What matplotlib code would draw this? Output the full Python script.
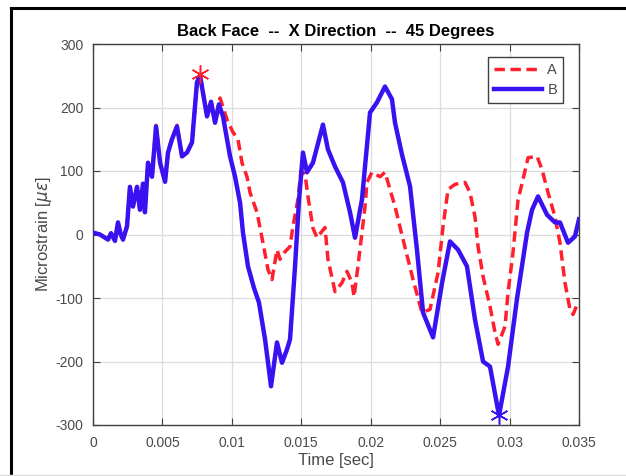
import matplotlib
matplotlib.use("Agg")
import matplotlib.pyplot as plt
from matplotlib.lines import Line2D

plt.rcParams['font.family'] = ['Liberation Sans', 'DejaVu Sans']
plt.rcParams['mathtext.fontset'] = 'dejavusans'
plt.rcParams['axes.unicode_minus'] = False

# Time [sec] and microstrain samples for gauge B
t_b = [0.0, 0.0005, 0.00108, 0.0013, 0.00158, 0.0018, 0.002, 0.00216, 0.00245,
       0.00266, 0.00288, 0.00317, 0.00338, 0.0036, 0.00374, 0.00396, 0.00425,
       0.00454, 0.00483, 0.00519, 0.0054, 0.00569, 0.00605, 0.00641, 0.00677,
       0.00713, 0.00749, 0.00771, 0.00821, 0.0085, 0.00879, 0.00907, 0.00936,
       0.00987, 0.01023, 0.01059, 0.0108, 0.01116, 0.01159, 0.01195, 0.01239,
       0.01282, 0.01325, 0.01361, 0.01397, 0.01419, 0.01455, 0.01484, 0.01512,
       0.01541, 0.01584, 0.01656, 0.01692, 0.01743, 0.018, 0.01851, 0.01887,
       0.01937, 0.01995, 0.02045, 0.02103, 0.02153, 0.02175, 0.02225, 0.02283,
       0.02333, 0.02377, 0.02449, 0.02514, 0.02571, 0.02629, 0.02693, 0.02751,
       0.02809, 0.02859, 0.02924, 0.02989, 0.03053, 0.03126, 0.03162, 0.03205,
       0.0327, 0.03327, 0.03363, 0.03421, 0.03471, 0.035]
v_b = [3, 0, -8, 2, -10, 19, 0, -8, 13,
       75, 44, 75, 39, 80, 35, 113, 91,
       170, 113, 83, 129, 150, 170, 123, 129,
       145, 240, 250, 186, 209, 176, 205, 186,
       123, 91, 50, 3, -50, -84, -107, -165,
       -239, -170, -202, -181, -165, -50, 55, 129,
       98, 113, 173, 134, 107, 82, 35, -5,
       55, 192, 208, 233, 213, 176, 126, 76,
       -24, -123, -162, -76, -11, -24, -50, -134,
       -200, -208, -285, -208, -102, 3, 39, 60,
       31, 19, 19, -13, -3, 24]

# Time [sec] and microstrain samples for gauge A
t_a = [0.0, 0.0005, 0.00108, 0.0013, 0.00158, 0.0018, 0.002, 0.00216, 0.00245,
       0.00266, 0.00288, 0.00317, 0.00338, 0.0036, 0.00374, 0.00396, 0.00425,
       0.00454, 0.00483, 0.00519, 0.0054, 0.00569, 0.00605, 0.00641, 0.00677,
       0.00713, 0.00749, 0.00771, 0.00821, 0.0085, 0.00879, 0.00915, 0.00965,
       0.01008, 0.01044, 0.01073, 0.01109, 0.01131, 0.01181, 0.01224, 0.0126,
       0.01289, 0.01325, 0.01347, 0.01383, 0.01419, 0.0144, 0.01476, 0.01498,
       0.01527, 0.01548, 0.01584, 0.01613, 0.01671, 0.01692, 0.01721, 0.01743,
       0.01793, 0.01829, 0.01865, 0.0188, 0.01908, 0.01937, 0.01959, 0.01973,
       0.02009, 0.02067, 0.02103, 0.02139, 0.02175, 0.02233, 0.02305, 0.02369,
       0.02427, 0.02485, 0.02521, 0.02557, 0.02607, 0.02679, 0.02715, 0.02751,
       0.02773, 0.02809, 0.02859, 0.02895, 0.02917, 0.02967, 0.02989, 0.03025,
       0.03061, 0.03097, 0.03133, 0.03198, 0.03234, 0.03277, 0.03327, 0.03363,
       0.03399, 0.03435, 0.03457, 0.03493]
v_a = [3, 0, -8, 2, -10, 19, 0, -8, 13,
       75, 44, 75, 39, 80, 35, 113, 91,
       172, 113, 83, 129, 152, 172, 123, 129,
       145, 240, 252, 188, 209, 178, 215, 181,
       161, 150, 113, 91, 66, 35, -13, -55,
       -71, -24, -39, -27, -19, 13, 55, 100,
       95, 60, 10, -5, 11, -39, -68, -90,
       -76, -58, -76, -98, -50, 3, 44, 82,
       98, 91, 98, 71, 44, -8, -71, -123,
       -118, -60, 13, 71, 79, 82, 66, 28,
       -19, -66, -113, -154, -173, -145, -91, -28,
       55, 87, 121, 123, 102, 66, 28, -13,
       -76, -118, -126, -107]

# Marked extrema
peak_a = (0.00771, 252)
min_b = (0.02924, -285)

x_ticks = [0, 0.005, 0.01, 0.015, 0.02, 0.025, 0.03, 0.035]
x_tick_labels = ['0', '0.005', '0.01', '0.015', '0.02', '0.025', '0.03', '0.035']
y_ticks = [-300, -200, -100, 0, 100, 200, 300]

col_a = '#ff1f2d'
col_b = '#3a12f2'
txt_gray = '#4a4a4a'
asterisk = (6, 2, 0)

fig = plt.figure(figsize=(6.26, 4.76), dpi=100)
ax = fig.add_axes([93 / 626, 1 - 425 / 476, (579 - 93) / 626, (425 - 44) / 476])
ax.set_facecolor('white')

ax.plot(t_a, v_a, color=col_a, lw=2.5, ls=(0, (3, 1.6)), label='A', zorder=3)
ax.plot(t_b, v_b, color=col_b, lw=3.2, label='B', zorder=4)
ax.plot(*peak_a, marker=asterisk, color=col_a, ms=13, mew=1.1, zorder=5)
ax.plot(*min_b, marker=asterisk, color=col_b, ms=13, mew=1.1, zorder=5)

ax.set_xlim(0, 0.035)
ax.set_ylim(-300, 300)
ax.set_xticks(x_ticks)
ax.set_xticklabels(x_tick_labels)
ax.set_yticks(y_ticks)
ax.tick_params(direction='in', length=5, width=0.8, top=True, right=True,
               labelsize=10, labelcolor=txt_gray, color='#404040')
ax.tick_params(axis='x', pad=8)
ax.tick_params(axis='y', pad=7)
ax.grid(True, color='#dcdcdc', lw=0.9)
ax.set_axisbelow(True)
for s in ax.spines.values():
    s.set_color('#404040')
    s.set_linewidth(1.0)

ax.set_title('Back Face  --  X Direction  --  45 Degrees', fontsize=12,
             fontweight='bold', pad=6)
ax.set_xlabel('Time [sec]', fontsize=12, color=txt_gray, labelpad=2)
ax.set_ylabel(r'Microstrain [$\mu\epsilon$]', fontsize=12, color=txt_gray, labelpad=1)

leg = ax.legend(loc='upper right', bbox_to_anchor=(0.967, 0.966), borderaxespad=0,
                fontsize=10.5, handlelength=3.3, handletextpad=0.35, borderpad=0.4,
                labelspacing=0.45, fancybox=False, framealpha=1)
leg.get_frame().set_edgecolor('#404040')
leg.get_frame().set_linewidth(1.0)
for txt in leg.get_texts():
    txt.set_color(txt_gray)

# Page frame around the figure
fig.add_artist(Line2D([11 / 626, 11 / 626], [0, 1 - 8 / 476], color='black', lw=2.2,
                      transform=fig.transFigure))
fig.add_artist(Line2D([11 / 626, 1], [1 - 8 / 476, 1 - 8 / 476], color='black', lw=2.2,
                      transform=fig.transFigure))
fig.add_artist(Line2D([0, 1], [1.5 / 476, 1.5 / 476], color='#e0e0e0', lw=1,
                      transform=fig.transFigure))

fig.savefig('out.png', dpi=100)
